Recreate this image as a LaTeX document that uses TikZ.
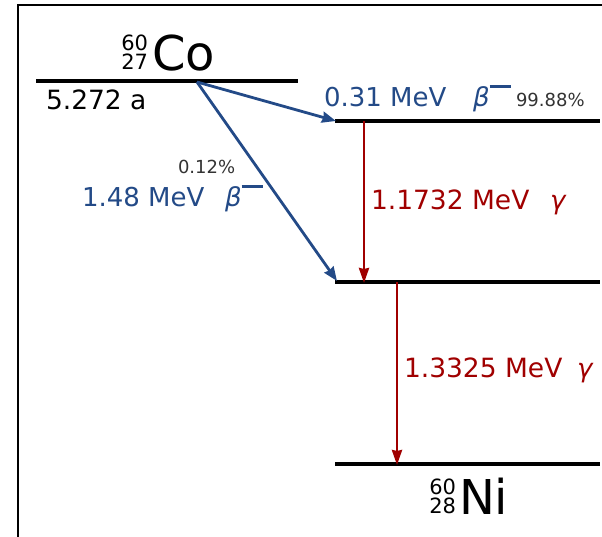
\documentclass[tikz,border=0pt]{standalone}
\usepackage{fontspec}
\setmainfont{DejaVu Sans}
\usetikzlibrary{arrows.meta}
\definecolor{bblue}{HTML}{234A87}
\definecolor{gred}{HTML}{A00000}
\definecolor{pgray}{HTML}{333333}
\newcommand{\fs}[1]{\fontsize{#1}{#1}\selectfont}
\newcommand{\betam}{\textit{β}\raisebox{0.7em}{\rule{0.82em}{0.12em}}}
\tikzset{
  lbl/.style={anchor=base west, inner sep=0pt, outer sep=0pt},
  iso/.style={anchor=south east, inner sep=0pt, outer sep=0pt, align=right, font=\fontsize{21}{19}\selectfont},
  level/.style={line width=3.2pt, black},
  frame/.style={line width=2.6pt, black},
  barrow/.style={line width=2.8pt, bblue, -{Stealth[length=14pt,width=11pt,inset=1pt]}},
  rarrow/.style={line width=2.8pt, gred, -{Stealth[length=15pt,width=10pt,inset=1pt]}},
}
\begin{document}
\begin{tikzpicture}[x=1pt,y=-1pt]
\useasboundingbox (0,0) rectangle (602,536);
% frame
\coordinate (fbl) at (18,540);
\coordinate (ftl) at (18,5);
\coordinate (ftr) at (606,5);
\draw[frame] (fbl) -- (ftl) -- (ftr);
% levels
\coordinate (coL) at (36,81);   \coordinate (coR) at (298,81);
\coordinate (n1L) at (335,121); \coordinate (n1R) at (600,121);
\coordinate (n2L) at (335,282); \coordinate (n2R) at (600,282);
\coordinate (n3L) at (335,464); \coordinate (n3R) at (600,464);
\draw[level] (coL) -- (coR);
\draw[level] (n1L) -- (n1R);
\draw[level] (n2L) -- (n2R);
\draw[level] (n3L) -- (n3R);
% Co label
\node[lbl] (co) at (152,70) {\fs{48}Co};
\node[iso] (coAZ) at (148,69) {60\\27};
\node[lbl] (half) at (46,109) {\fs{26.5}5.272 a};
% Ni label
\node[lbl] (ni) at (459,514) {\fs{48}Ni};
\node[iso] (niAZ) at (456,514) {60\\28};
% beta arrows
\coordinate (src) at (197,82);
\coordinate (b1end) at (336,121);
\coordinate (b2end) at (337,281);
\draw[barrow] (src) -- (b1end);
\draw[barrow] (src) -- (b2end);
% gamma arrows
\coordinate (g1s) at (364,121); \coordinate (g1e) at (364,283);
\coordinate (g2s) at (397,282); \coordinate (g2e) at (397,465);
\draw[rarrow] (g1s) -- (g1e);
\draw[rarrow] (g2s) -- (g2e);
% labels
\node[lbl, text=bblue] (e1) at (324,106) {\fs{26}0.31 MeV};
\node[lbl, text=bblue] (b1) at (473,106) {\fs{26}\betam};
\node[lbl, text=pgray] (p1) at (516,106) {\fs{18}99.88\%};
\node[lbl, text=pgray] (p2) at (178,173) {\fs{18}0.12\%};
\node[lbl, text=bblue] (e2) at (82,206) {\fs{26}1.48 MeV};
\node[lbl, text=bblue] (b2) at (225,206) {\fs{26}\betam};
\node[lbl, text=gred] (g1) at (371,209) {\fs{26.5}1.1732 MeV};
\node[lbl, text=gred] (gg1) at (550,209) {\fs{26}\textit{γ}};
\node[lbl, text=gred] (g2) at (404,377) {\fs{26.5}1.3325 MeV};
\node[lbl, text=gred] (gg2) at (577,377) {\fs{26}\textit{γ}};
\end{tikzpicture}
\end{document}
